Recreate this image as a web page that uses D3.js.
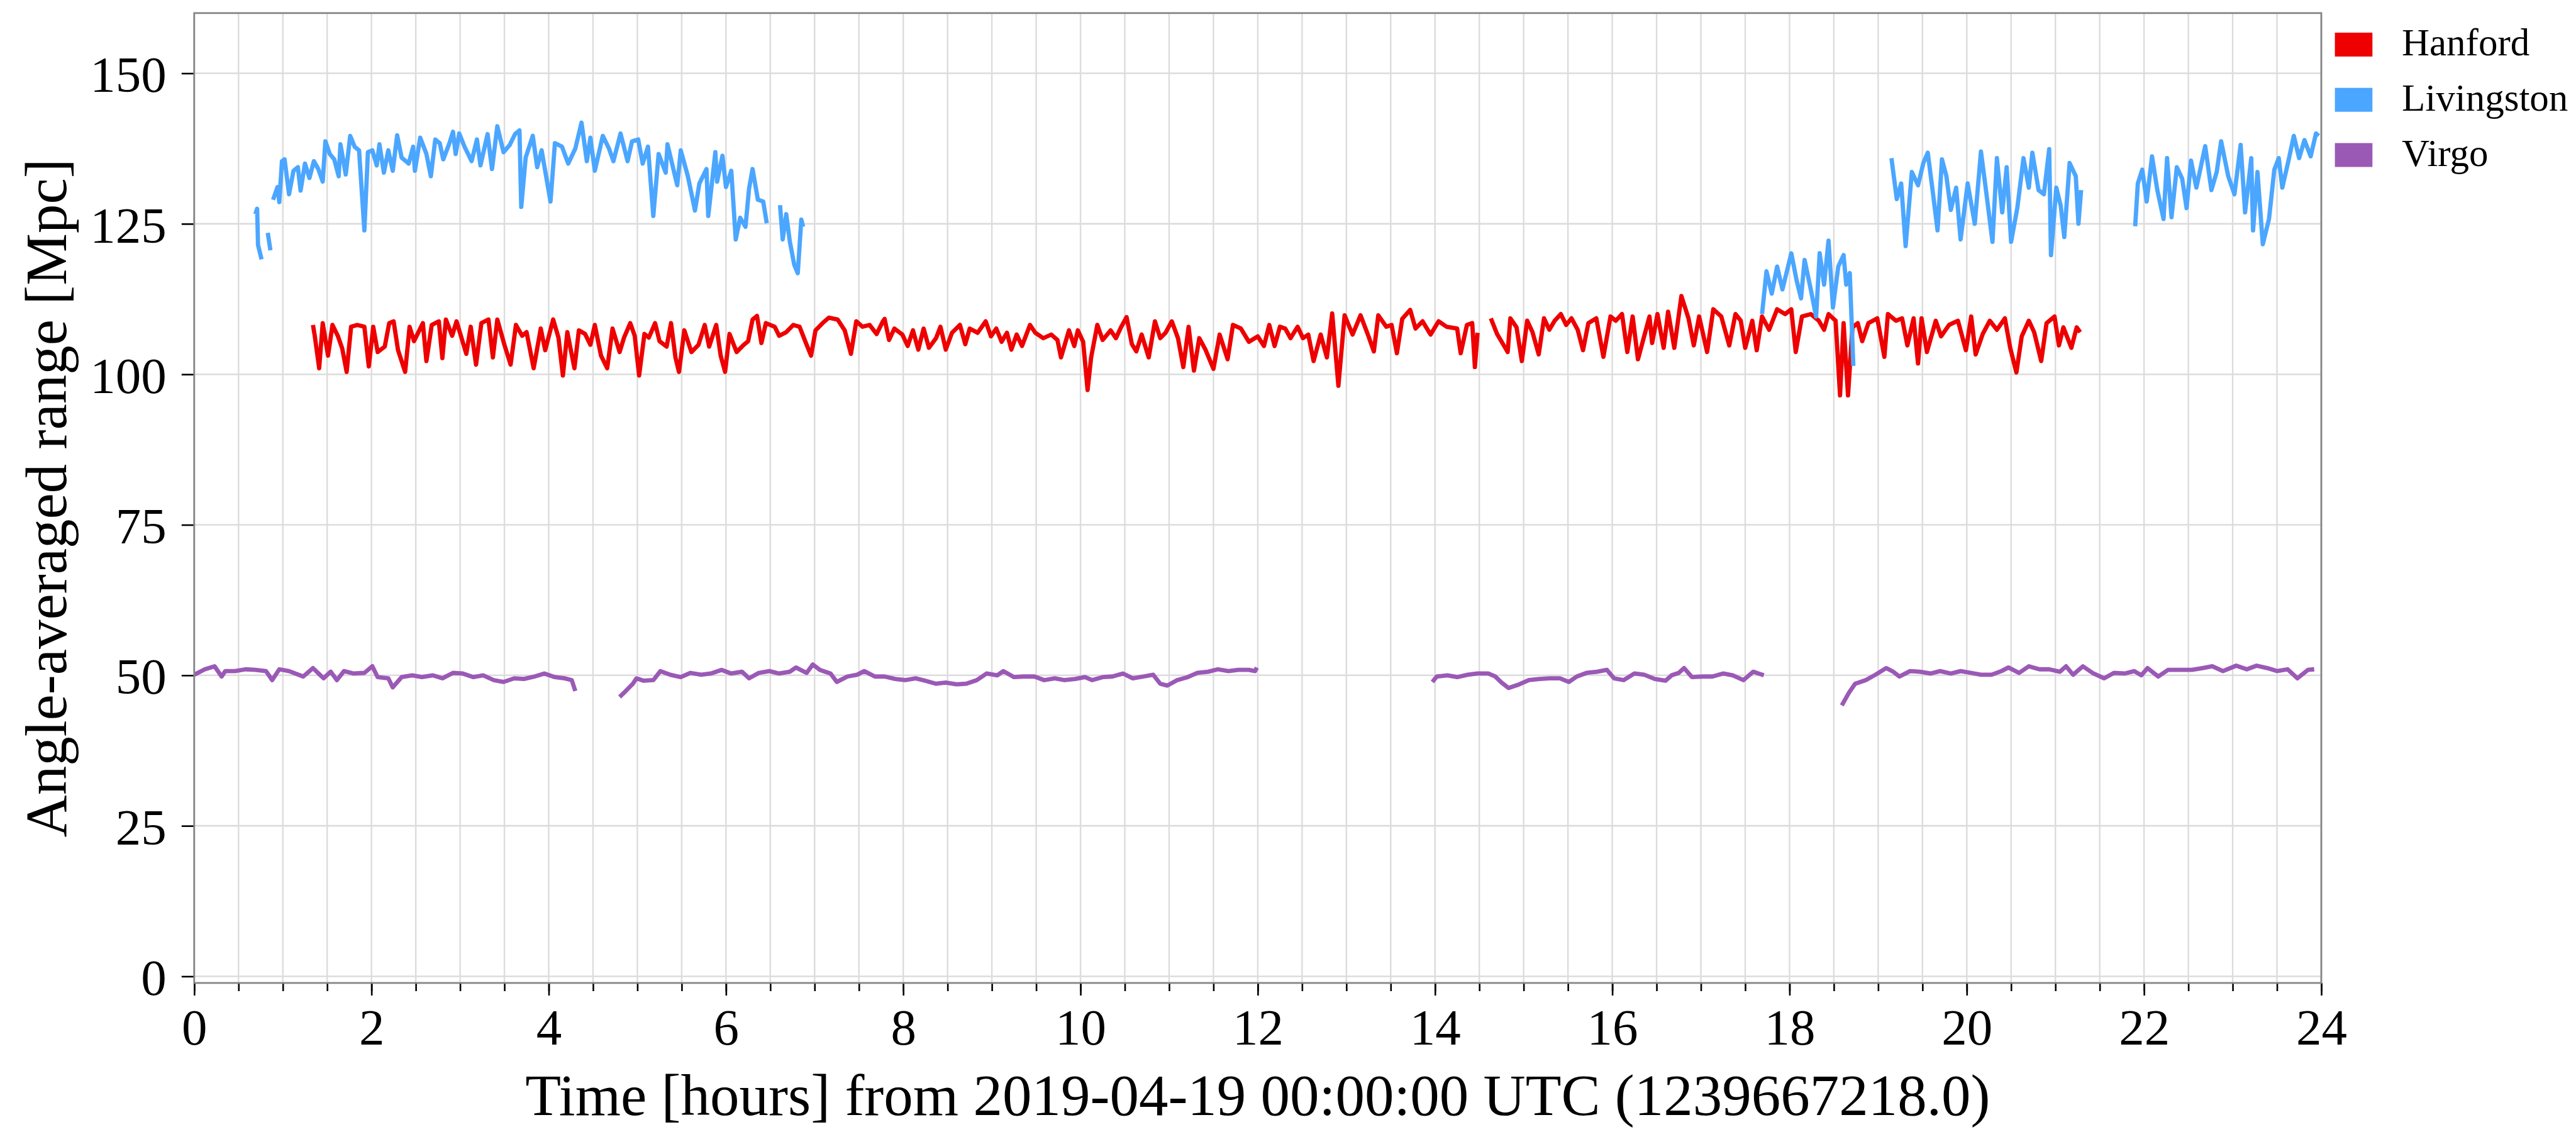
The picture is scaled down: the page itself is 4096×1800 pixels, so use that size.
<!DOCTYPE html>
<html>
<head>
<meta charset="utf-8">
<script src="https://cdn.jsdelivr.net/npm/d3@7"></script>
<style>
  body { margin: 0; background: #fff; }
  svg { display: block; }
</style>
</head>
<body>
<div id="chart"></div>
<script>
'use strict'

// [hours from 2019-04-19 00:00 UTC, range in Mpc]; null marks a gap
const hanford = [
  [1.34, 108.2], [1.36, 106.4], [1.41, 101.0], [1.45, 108.5], [1.51, 103.1], [1.56, 108.2], [1.62, 106.4], [1.67, 104.3], [1.72, 100.4], [1.77, 107.9],
  [1.84, 108.2], [1.92, 107.9], [1.97, 101.3], [2.02, 107.9], [2.07, 103.7], [2.15, 104.6], [2.20, 108.5], [2.25, 108.8], [2.30, 104.0], [2.38, 100.4],
  [2.43, 107.9], [2.48, 105.5], [2.58, 108.5], [2.62, 102.2], [2.68, 108.2], [2.76, 108.8], [2.80, 102.7], [2.84, 109.1], [2.91, 106.4], [2.96, 108.8],
  [3.07, 103.4], [3.12, 107.9], [3.18, 101.6], [3.24, 108.5], [3.32, 109.1], [3.37, 102.8], [3.42, 109.1], [3.50, 104.9], [3.57, 101.6], [3.63, 108.2],
  [3.70, 106.4], [3.75, 107.0], [3.83, 101.0], [3.91, 107.6], [3.96, 104.0], [4.05, 109.1], [4.11, 106.1], [4.16, 99.8], [4.21, 107.0], [4.29, 101.0],
  [4.34, 107.3], [4.41, 106.7], [4.47, 104.9], [4.52, 108.2], [4.59, 103.1], [4.66, 101.0], [4.72, 107.6], [4.80, 103.7], [4.85, 106.1], [4.92, 108.5],
  [4.97, 106.4], [5.02, 99.8], [5.08, 106.7], [5.13, 106.1], [5.20, 108.5], [5.25, 105.5], [5.33, 104.6], [5.38, 108.5], [5.43, 102.8], [5.47, 100.4],
  [5.53, 107.3], [5.61, 103.7], [5.69, 104.9], [5.76, 108.2], [5.81, 104.6], [5.89, 108.2], [5.94, 103.1], [5.99, 100.4], [6.04, 106.7], [6.12, 103.7],
  [6.20, 104.9], [6.25, 105.5], [6.30, 109.1], [6.35, 109.7], [6.40, 105.2], [6.45, 108.5], [6.55, 107.9], [6.60, 106.4], [6.68, 107.0], [6.76, 108.2],
  [6.83, 107.9], [6.91, 104.9], [6.96, 103.1], [7.01, 107.3], [7.09, 108.5], [7.16, 109.4], [7.26, 109.1], [7.34, 107.3], [7.41, 103.4], [7.47, 108.8],
  [7.54, 107.9], [7.62, 108.2], [7.70, 106.7], [7.77, 108.8], [7.79, 109.2], [7.84, 105.7], [7.90, 107.6], [7.99, 106.6], [8.05, 104.7], [8.11, 107.3],
  [8.17, 104.1], [8.23, 107.6], [8.29, 104.4], [8.37, 106.0], [8.42, 107.9], [8.48, 104.1], [8.55, 106.9], [8.64, 108.2], [8.70, 105.0], [8.75, 107.6],
  [8.84, 106.9], [8.93, 108.8], [8.99, 106.3], [9.05, 107.6], [9.11, 105.4], [9.17, 106.9], [9.22, 104.1], [9.28, 106.6], [9.34, 104.7], [9.43, 108.2],
  [9.49, 106.9], [9.58, 106.0], [9.67, 106.6], [9.74, 105.7], [9.78, 102.8], [9.87, 107.3], [9.93, 104.7], [9.97, 107.3], [10.03, 105.4], [10.08, 97.4],
  [10.12, 102.8], [10.19, 108.2], [10.25, 105.7], [10.34, 107.3], [10.40, 106.0], [10.46, 107.9], [10.52, 109.5], [10.58, 105.0], [10.63, 103.8], [10.69, 106.6],
  [10.77, 102.8], [10.84, 108.8], [10.90, 106.0], [10.96, 106.9], [11.03, 108.8], [11.10, 106.0], [11.16, 101.2], [11.22, 107.9], [11.28, 100.6], [11.34, 106.0],
  [11.41, 104.1], [11.50, 100.9], [11.57, 106.6], [11.66, 102.5], [11.72, 108.2], [11.81, 107.6], [11.90, 105.4], [12.00, 106.3], [12.07, 104.7], [12.13, 108.2],
  [12.19, 104.7], [12.25, 107.9], [12.31, 107.6], [12.37, 106.0], [12.45, 107.9], [12.51, 106.0], [12.57, 106.6], [12.63, 102.2], [12.71, 106.6], [12.78, 102.8],
  [12.84, 110.1], [12.91, 98.1], [12.98, 109.8], [13.07, 106.6], [13.16, 109.8], [13.25, 106.3], [13.31, 103.8], [13.36, 109.8], [13.45, 107.9], [13.51, 108.2],
  [13.57, 103.5], [13.63, 109.2], [13.72, 110.7], [13.78, 107.6], [13.86, 108.8], [13.95, 106.6], [14.04, 108.8], [14.13, 107.9], [14.25, 107.6], [14.29, 103.5],
  [14.36, 108.2], [14.42, 108.5], [14.45, 101.2], [14.48, 106.9], [14.55, null],
  [14.63, 109.3], [14.70, 106.7], [14.76, 105.2], [14.82, 103.7], [14.85, 109.3], [14.92, 107.8], [14.98, 102.2], [15.04, 108.9], [15.10, 107.0], [15.17, 103.3],
  [15.23, 109.3], [15.29, 107.4], [15.35, 108.9], [15.42, 110.0], [15.48, 108.2], [15.54, 109.3], [15.61, 107.4], [15.67, 104.0], [15.73, 108.5], [15.82, 109.3],
  [15.90, 102.9], [15.98, 109.6], [16.04, 108.9], [16.11, 110.0], [16.17, 103.7], [16.23, 109.6], [16.29, 102.5], [16.42, 109.6], [16.45, 105.2], [16.51, 110.0],
  [16.58, 104.4], [16.63, 110.4], [16.70, 104.4], [16.78, 113.0], [16.86, 109.3], [16.92, 104.8], [16.98, 109.6], [17.07, 103.7], [17.14, 110.8], [17.23, 109.6],
  [17.32, 104.8], [17.39, 110.0], [17.45, 108.9], [17.50, 104.4], [17.58, 108.9], [17.63, 104.0], [17.69, 109.6], [17.77, 107.4], [17.86, 110.8], [17.95, 110.0],
  [18.02, 110.8], [18.07, 103.7], [18.14, 109.6], [18.24, 110.0], [18.33, 108.9], [18.39, 107.4], [18.44, 110.0], [18.52, 108.9], [18.57, 96.5], [18.61, 108.5],
  [18.66, 96.5], [18.71, 107.8], [18.77, 108.5], [18.82, 105.5], [18.89, 108.5], [18.99, 109.3], [19.07, 102.9], [19.11, 110.0], [19.20, 108.9], [19.27, 109.3],
  [19.33, 104.8], [19.40, 109.3], [19.45, 101.8], [19.49, 109.3], [19.55, 103.7], [19.65, 108.9], [19.71, 106.3], [19.80, 108.2], [19.90, 108.9], [19.99, 104.0],
  [20.05, 109.6], [20.10, 103.3], [20.18, 106.7], [20.26, 108.9], [20.34, 107.4], [20.43, 109.3], [20.49, 104.4], [20.56, 100.3], [20.62, 106.3], [20.70, 108.9],
  [20.76, 107.0], [20.84, 102.2], [20.90, 108.5], [20.99, 109.6], [21.04, 104.8], [21.09, 107.8], [21.18, 104.4], [21.24, 107.8], [21.28, 107.0]
]

const livingston = [
  [0.69, 126.6], [0.71, 127.5], [0.72, 121.5], [0.76, 119.1], [0.80, null],
  [0.83, 123.5], [0.86, 120.6], [0.87, null],
  [0.89, 129.0], [0.94, 131.1], [0.96, 128.6], [0.99, 135.4], [1.02, 135.7], [1.07, 129.9], [1.12, 133.8], [1.17, 134.4], [1.20, 130.5], [1.25, 135.0],
  [1.30, 132.6], [1.35, 135.4], [1.40, 134.1], [1.45, 132.0], [1.48, 138.7], [1.53, 136.6], [1.58, 135.7], [1.63, 132.9], [1.65, 138.2], [1.71, 133.2],
  [1.76, 139.6], [1.81, 137.8], [1.86, 137.2], [1.92, 123.9], [1.96, 136.9], [2.01, 137.2], [2.06, 134.7], [2.09, 138.2], [2.14, 133.5], [2.19, 137.2],
  [2.24, 133.8], [2.29, 139.7], [2.34, 136.0], [2.42, 135.0], [2.47, 137.8], [2.49, 133.8], [2.55, 139.3], [2.62, 136.6], [2.67, 132.9], [2.72, 139.0],
  [2.77, 138.4], [2.81, 135.7], [2.88, 138.4], [2.92, 140.3], [2.95, 136.6], [2.99, 140.0], [3.05, 137.8], [3.13, 135.4], [3.19, 139.0], [3.23, 134.7],
  [3.31, 139.9], [3.36, 134.1], [3.42, 141.2], [3.49, 136.9], [3.56, 138.1], [3.62, 139.9], [3.67, 140.5], [3.69, 127.8], [3.74, 136.0], [3.82, 139.6],
  [3.87, 134.4], [3.92, 137.2], [4.02, 128.7], [4.07, 138.4], [4.15, 137.8], [4.22, 135.0], [4.30, 137.5], [4.37, 141.8], [4.43, 135.4], [4.47, 139.3],
  [4.52, 133.8], [4.61, 139.6], [4.68, 137.5], [4.73, 135.4], [4.81, 140.0], [4.89, 135.4], [4.94, 138.7], [5.01, 139.0], [5.06, 135.0], [5.12, 137.8],
  [5.18, 126.3], [5.24, 136.6], [5.32, 133.5], [5.34, 138.2], [5.45, 131.4], [5.49, 137.2], [5.57, 132.9], [5.65, 127.2], [5.70, 131.7], [5.78, 134.1],
  [5.80, 126.3], [5.88, 136.9], [5.90, 132.0], [5.96, 136.3], [6.00, 131.1], [6.06, 133.8], [6.11, 122.4], [6.16, 126.0], [6.22, 124.5], [6.26, 130.8],
  [6.30, 134.1], [6.36, 129.0], [6.42, 128.7], [6.46, 125.1], [6.53, null],
  [6.61, 128.1], [6.64, 122.4], [6.68, 126.6], [6.72, 122.1], [6.77, 118.2], [6.81, 116.8], [6.85, 125.7], [6.87, 124.5], [7.2, null],
  [17.69, 110.0], [17.74, 117.1], [17.80, 113.4], [17.86, 117.9], [17.92, 114.1], [18.02, 120.1], [18.08, 115.6], [18.13, 112.6], [18.17, 119.0], [18.24, 114.1],
  [18.30, 109.6], [18.34, 120.1], [18.39, 114.9], [18.44, 122.2], [18.49, 111.1], [18.55, 117.9], [18.61, 119.8], [18.64, 114.9], [18.68, 116.8], [18.72, 101.4], [18.9, null],
  [19.15, 135.9], [19.21, 129.1], [19.26, 131.7], [19.31, 121.3], [19.38, 133.6], [19.45, 131.4], [19.51, 135.1], [19.56, 136.8], [19.62, 129.9], [19.67, 123.9],
  [19.72, 135.7], [19.77, 132.9], [19.82, 127.3], [19.88, 131.0], [19.93, 122.4], [20.01, 131.7], [20.09, 125.0], [20.16, 137.0], [20.22, 130.2], [20.29, 122.0],
  [20.34, 135.9], [20.40, 126.9], [20.45, 134.4], [20.50, 122.0], [20.57, 127.6], [20.64, 135.9], [20.70, 131.0], [20.74, 136.8], [20.81, 130.6], [20.87, 129.9],
  [20.93, 137.4], [20.95, 119.8], [21.01, 131.0], [21.06, 128.0], [21.10, 122.8], [21.16, 135.1], [21.23, 132.9], [21.26, 125.0], [21.29, 130.6], [21.5, null],
  [21.90, 124.6], [21.93, 131.7], [21.98, 134.0], [22.03, 128.7], [22.09, 136.2], [22.15, 130.6], [22.22, 125.8], [22.26, 135.9], [22.31, 126.1], [22.37, 134.4],
  [22.43, 132.5], [22.48, 127.6], [22.53, 135.5], [22.59, 131.0], [22.64, 134.4], [22.69, 137.9], [22.76, 130.6], [22.82, 133.6], [22.87, 138.7], [22.95, 132.9],
  [23.02, 129.9], [23.09, 138.1], [23.14, 126.9], [23.21, 135.9], [23.23, 123.9], [23.28, 133.6], [23.34, 121.6], [23.41, 125.8], [23.47, 134.0], [23.52, 135.9],
  [23.56, 131.0], [23.63, 135.5], [23.69, 139.6], [23.75, 135.9], [23.81, 138.9], [23.88, 136.2], [23.94, 140.0], [23.97, 139.6]
]

const virgo = [
  [0.00, 50.1], [0.12, 51.0], [0.23, 51.5], [0.31, 49.8], [0.35, 50.7], [0.46, 50.7], [0.58, 51.0], [0.69, 50.9], [0.81, 50.7], [0.88, 49.2],
  [0.96, 51.0], [1.07, 50.7], [1.23, 49.8], [1.34, 51.2], [1.46, 49.5], [1.54, 50.6], [1.61, 49.2], [1.69, 50.7], [1.80, 50.3], [1.92, 50.4],
  [2.01, 51.5], [2.07, 49.7], [2.19, 49.5], [2.24, 48.0], [2.34, 49.7], [2.46, 50.0], [2.57, 49.7], [2.69, 50.0], [2.80, 49.5], [2.92, 50.4],
  [3.03, 50.3], [3.15, 49.7], [3.26, 50.0], [3.38, 49.2], [3.49, 48.9], [3.61, 49.5], [3.72, 49.4], [3.84, 49.8], [3.95, 50.3], [4.07, 49.7],
  [4.18, 49.5], [4.26, 49.2], [4.30, 47.4], [4.5, null],
  [4.80, 46.4], [4.87, 47.4], [4.95, 48.6], [4.99, 49.5], [5.07, 49.1], [5.18, 49.2], [5.26, 50.7], [5.37, 50.1], [5.49, 49.7], [5.60, 50.4],
  [5.72, 50.1], [5.83, 50.3], [5.95, 50.9], [6.06, 50.3], [6.18, 50.6], [6.26, 49.5], [6.37, 50.4], [6.49, 50.7], [6.60, 50.3], [6.72, 50.6],
  [6.79, 51.3], [6.91, 50.4], [6.98, 51.8], [7.06, 50.9], [7.18, 50.3], [7.25, 48.9], [7.37, 49.8], [7.48, 50.1], [7.56, 50.7], [7.68, 49.8],
  [7.79, 49.8], [7.91, 49.4], [8.02, 49.2], [8.14, 49.5], [8.25, 49.1], [8.37, 48.6], [8.48, 48.8], [8.60, 48.5], [8.71, 48.6], [8.83, 49.2],
  [8.94, 50.3], [9.06, 50.0], [9.13, 50.7], [9.25, 49.7], [9.36, 49.8], [9.48, 49.8], [9.59, 49.2], [9.71, 49.5], [9.82, 49.2], [9.94, 49.4],
  [10.05, 49.7], [10.13, 49.2], [10.25, 49.7], [10.36, 49.8], [10.48, 50.3], [10.59, 49.5], [10.71, 49.8], [10.82, 50.1], [10.90, 48.6], [10.98, 48.3],
  [11.09, 49.2], [11.21, 49.7], [11.32, 50.4], [11.44, 50.6], [11.55, 51.0], [11.67, 50.7], [11.78, 50.9], [11.90, 50.9], [11.97, 50.7], [11.99, 51.3], [12.5, null],
  [13.97, 48.9], [14.02, 49.8], [14.14, 50.0], [14.25, 49.7], [14.37, 50.1], [14.48, 50.3], [14.60, 50.3], [14.68, 49.8], [14.75, 48.8], [14.83, 47.9],
  [14.95, 48.5], [15.06, 49.2], [15.18, 49.4], [15.29, 49.5], [15.41, 49.5], [15.51, 48.9], [15.60, 49.8], [15.71, 50.4], [15.83, 50.6], [15.94, 50.9],
  [16.02, 49.5], [16.13, 49.2], [16.25, 50.3], [16.36, 50.1], [16.48, 49.4], [16.60, 49.1], [16.67, 50.0], [16.75, 50.4], [16.81, 51.2], [16.90, 49.7],
  [17.02, 49.8], [17.13, 49.8], [17.25, 50.3], [17.36, 50.0], [17.48, 49.2], [17.59, 50.6], [17.71, 50.0], [18.0, null],
  [18.59, 45.0], [18.67, 47.1], [18.74, 48.6], [18.86, 49.2], [18.97, 50.1], [19.09, 51.2], [19.17, 50.6], [19.24, 49.8], [19.36, 50.7], [19.47, 50.6],
  [19.59, 50.3], [19.70, 50.7], [19.82, 50.3], [19.93, 50.7], [20.05, 50.4], [20.16, 50.1], [20.28, 50.1], [20.39, 50.7], [20.47, 51.3], [20.59, 50.4],
  [20.70, 51.5], [20.82, 51.0], [20.93, 51.0], [21.05, 50.6], [21.12, 51.5], [21.20, 50.1], [21.31, 51.5], [21.43, 50.3], [21.55, 49.5], [21.66, 50.4],
  [21.78, 50.3], [21.89, 50.7], [21.97, 50.0], [22.04, 51.2], [22.16, 49.8], [22.27, 50.9], [22.39, 50.9], [22.54, 50.9], [22.66, 51.2], [22.77, 51.5],
  [22.89, 50.7], [23.04, 51.6], [23.16, 51.0], [23.27, 51.6], [23.39, 51.2], [23.50, 50.7], [23.62, 51.0], [23.73, 49.5], [23.85, 50.9], [23.92, 51.0]
]

const detectors = ['Hanford', 'Livingston', 'Virgo']
const colors = ['#ee0000', '#4ba6ff', '#9b59b6']
const xMajorTicks = [0, 2, 4, 6, 8, 10, 12, 14, 16, 18, 20, 22, 24]
const xMinorTicks = d3.range(0, 24.01, 0.5)
const yTicks = [0, 25, 50, 75, 100, 125, 150]
const xLabel = 'Time [hours] from 2019-04-19 00:00:00 UTC (1239667218.0)'
const yLabel = 'Angle-averaged range [Mpc]'

const W = 4096
const H = 1800
const margin = { top: 20.8, left: 308.8, right: W - 3691, bottom: H - 1563 }
const width = W - margin.left - margin.right
const height = H - margin.top - margin.bottom
const font = "'Liberation Serif', 'Times New Roman', serif"

const root = d3.select('#chart')
  .append('svg')
  .attr('width', W)
  .attr('height', H)

const svg = root.append('g')
  .attr('transform', `translate(${margin.left}, ${margin.top})`)

const xScale = d3.scaleLinear().domain([0, 24]).range([0, width])
const yScale = d3.scaleLinear().domain([-1.1, 160]).range([height, 0])

// grid
svg.append('g')
  .selectAll('line')
  .data(xMinorTicks)
  .enter()
  .append('line')
  .attr('x1', d => xScale(d))
  .attr('x2', d => xScale(d))
  .attr('y1', 0)
  .attr('y2', height)
  .attr('stroke', '#dcdcdc')
  .attr('stroke-width', 2.4)

svg.append('g')
  .selectAll('line')
  .data(yTicks)
  .enter()
  .append('line')
  .attr('x1', 0)
  .attr('x2', width)
  .attr('y1', d => yScale(d))
  .attr('y2', d => yScale(d))
  .attr('stroke', '#dcdcdc')
  .attr('stroke-width', 2.6)

// data
svg.append('clipPath')
  .attr('id', 'plot-area')
  .append('rect')
  .attr('width', width)
  .attr('height', height)

const line = d3.line()
  .defined(d => d[1] !== null)
  .x(d => xScale(d[0]))
  .y(d => yScale(d[1]))

const series = [hanford, livingston, virgo]
svg.append('g')
  .attr('clip-path', 'url(#plot-area)')
  .selectAll('path')
  .data(series)
  .enter()
  .append('path')
  .attr('d', line)
  .attr('fill', 'none')
  .attr('stroke', (d, i) => colors[i])
  .attr('stroke-width', 6.8)
  .attr('stroke-linejoin', 'round')
  .attr('stroke-linecap', 'butt')

// axes
const xMinor = svg.append('g')
  .attr('transform', `translate(0, ${height})`)
  .call(d3.axisBottom(xScale).tickValues(xMinorTicks).tickSize(13).tickFormat(''))

const xAxis = svg.append('g')
  .attr('transform', `translate(0, ${height})`)
  .call(d3.axisBottom(xScale).tickValues(xMajorTicks).tickSize(20).tickPadding(20).tickFormat(d3.format('d')))

const yAxis = svg.append('g')
  .call(d3.axisLeft(yScale).tickValues(yTicks).tickSize(20).tickPadding(24))

for (const g of [xMinor, xAxis, yAxis]) {
  g.select('.domain').remove()
  g.selectAll('.tick line').attr('stroke', '#000').attr('stroke-width', 2.6)
}
xAxis.selectAll('.tick text').attr('font-family', font).attr('font-size', 81).attr('fill', '#000')
yAxis.selectAll('.tick text').attr('font-family', font).attr('font-size', 81).attr('fill', '#000').attr('dy', '0.36em')

// frame
svg.append('rect')
  .attr('width', width)
  .attr('height', height)
  .attr('fill', 'none')
  .attr('stroke', '#858585')
  .attr('stroke-width', 2.8)

// labels
root.append('text')
  .attr('x', margin.left + width / 2)
  .attr('y', 1773)
  .attr('text-anchor', 'middle')
  .attr('font-family', font)
  .attr('font-size', 93)
  .text(xLabel)

root.append('text')
  .attr('transform', `translate(105, ${margin.top + height / 2}) rotate(-90)`)
  .attr('text-anchor', 'middle')
  .attr('font-family', font)
  .attr('font-size', 93)
  .text(yLabel)

// legend
const legend = root.append('g')
  .attr('transform', 'translate(3712.6, 51.9)')
  .selectAll('g')
  .data(detectors)
  .enter()
  .append('g')
  .attr('transform', (d, i) => `translate(0, ${i * 87.8})`)

legend.append('rect')
  .attr('width', 59.7)
  .attr('height', 38)
  .attr('fill', (d, i) => colors[i])

legend.append('text')
  .attr('x', 106.4)
  .attr('y', 36)
  .attr('font-family', font)
  .attr('font-size', 61)
  .attr('fill', '#000')
  .text(d => d)
</script>
</body>
</html>
